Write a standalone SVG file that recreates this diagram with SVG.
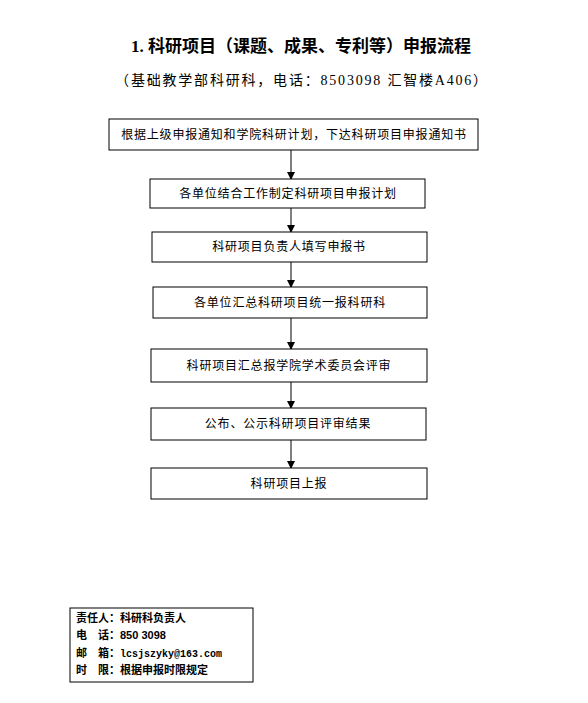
<svg xmlns="http://www.w3.org/2000/svg" width="588" height="703" viewBox="0 0 588 703">
<style>
.box{fill:#fff;stroke:#000;stroke-width:1}
.t{font-family:"Liberation Serif","Noto Sans CJK SC",serif;font-size:12px;letter-spacing:0.8px;text-anchor:middle;fill:#000}
.title{font-family:"Liberation Serif","Noto Sans CJK SC",serif;font-size:17px;font-weight:bold;text-anchor:middle;fill:#000}
.sub{font-family:"Liberation Serif","Noto Sans CJK SC",serif;font-size:14px;letter-spacing:1.8px;text-anchor:middle;fill:#000}
.info{font-family:"Liberation Sans","Noto Sans CJK SC",sans-serif;font-size:11px;font-weight:bold;fill:#000}
.mono{font-family:"Liberation Mono",monospace;font-size:10px}
.c{stroke:#000;stroke-width:1;fill:none;marker-end:url(#ah)}
</style>
<defs>
<marker id="ah" markerWidth="8" markerHeight="8" refX="7" refY="4" orient="auto" markerUnits="userSpaceOnUse">
<path d="M0,0 L8,4 L0,8 z" fill="#000"/>
</marker>
</defs>
<rect width="588" height="703" fill="#fff"/>
<text class="title" x="301" y="52">1. 科研项目（课题、成果、专利等）申报流程</text>
<text class="sub" x="302" y="85">（基础教学部科研科，电话：8503098 汇智楼A406）</text>
<g id="connectors">
<line class="c" x1="291" y1="150" x2="291" y2="179"/>
<line class="c" x1="291" y1="208" x2="291" y2="232"/>
<line class="c" x1="291" y1="262" x2="291" y2="287"/>
<line class="c" x1="291" y1="318" x2="291" y2="349"/>
<line class="c" x1="291" y1="382" x2="291" y2="408"/>
<line class="c" x1="291" y1="440" x2="291" y2="468"/>
</g>
<g id="n1"><rect class="box" x="109" y="119" width="369" height="31"/><text class="t" x="294" y="139">根据上级申报通知和学院科研计划，下达科研项目申报通知书</text></g>
<g id="n2"><rect class="box" x="150" y="179" width="275" height="29"/><text class="t" x="288" y="198">各单位结合工作制定科研项目申报计划</text></g>
<g id="n3"><rect class="box" x="152" y="232" width="275" height="30"/><text class="t" x="289" y="251">科研项目负责人填写申报书</text></g>
<g id="n4"><rect class="box" x="153" y="287" width="274" height="31"/><text class="t" x="290" y="307">各单位汇总科研项目统一报科研科</text></g>
<g id="n5"><rect class="box" x="151" y="349" width="276" height="33"/><text class="t" x="289" y="370">科研项目汇总报学院学术委员会评审</text></g>
<g id="n6"><rect class="box" x="151" y="408" width="275" height="32"/><text class="t" x="288" y="428">公布、公示科研项目评审结果</text></g>
<g id="n7"><rect class="box" x="151" y="468" width="276" height="31"/><text class="t" x="289" y="488">科研项目上报</text></g>
<g id="info">
<rect class="box" x="70" y="608" width="183" height="74"/>
<text class="info" x="76" y="622">责任人：科研科负责人</text>
<text class="info" x="76" y="639">电<tspan dx="11">话：850 3098</tspan></text>
<text class="info" x="76" y="657">邮<tspan dx="11">箱：</tspan><tspan class="mono">lcsjszyky@163.com</tspan></text>
<text class="info" x="76" y="674">时<tspan dx="11">限：根据申报时限规定</tspan></text>
</g>
</svg>
